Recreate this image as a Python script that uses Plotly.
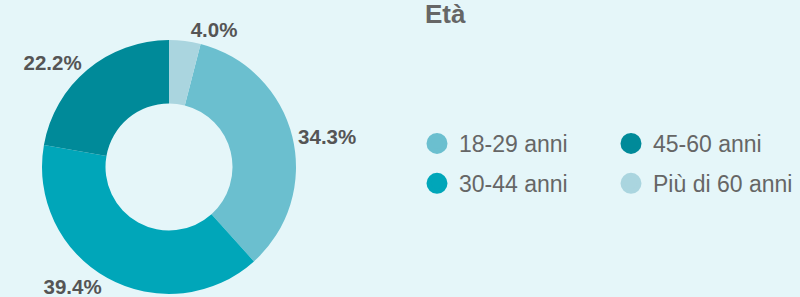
import plotly.graph_objects as go

categories = ["18-29 anni", "30-44 anni", "45-60 anni", "Più di 60 anni"]
values = [34.3, 39.4, 22.2, 4.0]
colors = ["#6bbfcf", "#00a6b9", "#008a99", "#aad5df"]
legend_columns = ["legend", "legend", "legend2", "legend2"]
title_text = "Età"

BG = "#e5f6f9"
FONT = "Liberation Sans, Arial, sans-serif"

fig = go.Figure()

fig.add_trace(go.Pie(
    labels=categories,
    values=values,
    marker=dict(colors=colors, line=dict(width=0)),
    hole=0.5,
    sort=False,
    direction="clockwise",
    rotation=360 * values[-1] / sum(values),
    textposition="outside",
    texttemplate="%{value:.1f}%",
    textfont=dict(family=FONT, size=20.5, color="#555555", weight="bold"),
    showlegend=False,
    automargin=False,
    domain=dict(x=[42 / 800, 296 / 800], y=[3 / 297, 257 / 297]),
    hoverinfo="label+percent",
))

for name, col, lg in zip(categories, colors, legend_columns):
    fig.add_trace(go.Scatter(
        x=[None], y=[None], mode="markers", name=name, legend=lg,
        legendgroup=name,
        marker=dict(symbol="circle", size=16, color=col, line=dict(width=5, color=col)),
    ))

legend_common = dict(
    orientation="v", xanchor="left", yanchor="top",
    font=dict(family=FONT, size=23, color="#666666"),
    bgcolor="rgba(0,0,0,0)", tracegroupgap=7, itemwidth=34,
)

fig.update_layout(
    width=800, height=297,
    margin=dict(l=0, r=0, t=0, b=0, autoexpand=False),
    paper_bgcolor=BG, plot_bgcolor=BG,
    xaxis=dict(visible=False), yaxis=dict(visible=False),
    title=dict(text=title_text, x=425 / 800, xanchor="left", xref="container",
               y=1 - 5 / 297, yanchor="top", yref="container", automargin=False,
               font=dict(family=FONT, size=26, color="#666666", weight="bold")),
    legend=dict(x=415 / 800, y=1 - 122 / 297, **legend_common),
    legend2=dict(x=609 / 800, y=1 - 122 / 297, **legend_common),
)

fig.write_html(
    "out.html",
    config={"displayModeBar": False},
    post_script="document.body.style.margin='0';document.body.style.overflow='hidden';",
)
